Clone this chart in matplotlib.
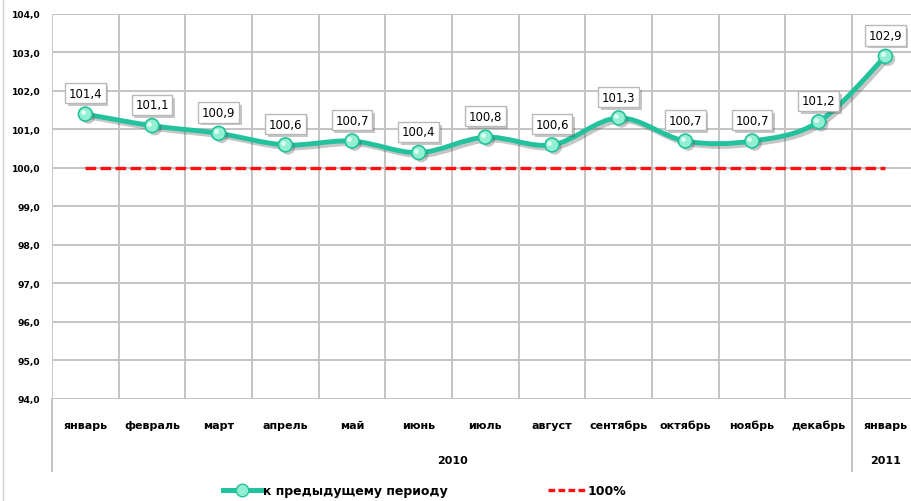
import numpy as np
import matplotlib
matplotlib.use("Agg")
import matplotlib.pyplot as plt
from matplotlib.path import Path
from matplotlib.patches import PathPatch
from matplotlib.lines import Line2D
import matplotlib.patheffects as pe

months = ["январь", "февраль", "март", "апрель", "май", "июнь", "июль",
          "август", "сентябрь", "октябрь", "ноябрь", "декабрь", "январь"]
years = ["2010", "2011"]
year_counts = [12, 1]
values = [101.4, 101.1, 100.9, 100.6, 100.7, 100.4, 100.8,
          100.6, 101.3, 100.7, 100.7, 101.2, 102.9]
baseline = [100.0] * len(months)
series_name = "к предыдущему периоду"
baseline_name = "100%"
y_ticks = [94, 95, 96, 97, 98, 99, 100, 101, 102, 103, 104]

GREEN = "#22c29c"
MARK_FACE = "#93efd2"
GRID = "#c4c4c4"

W, H = 911, 502
fig = plt.figure(figsize=(W / 100, H / 100), dpi=100)
ax = fig.add_axes([52 / W, 1 - 400 / H, 866.7 / W, 385 / H])

n = len(months)
x = np.arange(n)
ax.set_xlim(-0.5, n - 0.5)
ax.set_ylim(94, 104)
ax.set_yticks(y_ticks)
ax.set_yticklabels([f"{v:.1f}".replace(".", ",") for v in y_ticks],
                   fontsize=6.6, fontweight="bold")
ax.set_xticks(x)
ax.set_xticklabels(months, fontsize=8, fontweight="bold")
ax.set_xticks(np.arange(-0.5, n, 1), minor=True)
ax.tick_params(axis="both", which="both", length=0)
ax.tick_params(axis="y", pad=8.5)
ax.tick_params(axis="x", pad=15)
ax.grid(True, axis="y", which="major", color=GRID, linewidth=1.4)
ax.grid(True, axis="x", which="minor", color=GRID, linewidth=1.4)
ax.grid(False, axis="x", which="major")
for s in ax.spines.values():
    s.set_visible(False)
ax.set_axisbelow(True)

# extended separators for multi-level category axis
trans = ax.get_xaxis_transform()
ext = -(472 - 400) / 385
bounds = [-0.5]
acc = -0.5
for c in year_counts:
    acc += c
    bounds.append(acc)
for b in bounds[:-1]:
    ax.add_line(Line2D([b, b], [0, ext], transform=trans, color=GRID,
                       linewidth=1.4, clip_on=False))
# year labels
start = 0
for yl, c in zip(years, year_counts):
    cx = start + (c - 1) / 2
    ax.text(cx, -(461 - 400) / 385, yl, transform=trans, ha="center",
            va="center", fontsize=8, fontweight="bold")
    start += c

# baseline
ax.plot(x, baseline, color="#ff1010", linewidth=2.4, dashes=(3.2, 1.3),
        solid_capstyle="butt", dash_capstyle="butt", zorder=3)

# smoothed line (Bezier through data points)
pts = np.column_stack([x, values]).astype(float)
verts = [tuple(pts[0])]
codes = [Path.MOVETO]
for i in range(n - 1):
    p0 = pts[i - 1] if i > 0 else pts[i]
    p1 = pts[i]
    p2 = pts[i + 1]
    p3 = pts[i + 2] if i + 2 < n else pts[i + 1]
    c1 = p1 + (p2 - p0) / 6
    c2 = p2 - (p3 - p1) / 6
    verts += [tuple(c1), tuple(c2), tuple(p2)]
    codes += [Path.CURVE4] * 3
path = Path(verts, codes)
patch = PathPatch(path, facecolor="none", edgecolor=GREEN, linewidth=3.5,
                  zorder=4, capstyle="round",
                  path_effects=[pe.SimpleLineShadow(offset=(2, -2), shadow_color="#444444", alpha=0.3),
                                pe.Normal()])
ax.add_patch(patch)
ax.plot(x, values, linestyle="none", marker="o", markersize=10,
        markerfacecolor=MARK_FACE, markeredgecolor=GREEN, markeredgewidth=1.2,
        zorder=5,
        path_effects=[pe.SimplePatchShadow(offset=(2, -2), shadow_rgbFace="#444444", alpha=0.3),
                      pe.Normal()])
ax.plot(x - 0.04, np.array(values) + 0.05, linestyle="none", marker="o",
        markersize=3.5, markerfacecolor="white", markeredgecolor="none",
        alpha=0.7, zorder=6)

for xi, v in zip(x, values):
    ax.annotate(f"{v:.1f}".replace(".", ","), (xi, v), xytext=(0, 15),
                textcoords="offset points", ha="center", va="center",
                fontsize=8.5, zorder=7,
                bbox=dict(boxstyle="square,pad=0.3", facecolor="white",
                          edgecolor="#b8b8b8", linewidth=1.0,
                          path_effects=[pe.SimplePatchShadow(offset=(2, -2), shadow_rgbFace="#444444", alpha=0.3),
                                        pe.Normal()]))

# legend
h1 = Line2D([], [], color=GREEN, linewidth=3.6, marker="o", markersize=9,
            markerfacecolor=MARK_FACE, markeredgecolor=GREEN)
h2 = Line2D([], [], color="#ff1010", linewidth=2.4, dashes=(2.0, 1.0))
leg = fig.legend([h1, h2], [series_name, baseline_name], loc="center",
                 bbox_to_anchor=(425 / W, 1 - 492 / H), ncol=2, frameon=False,
                 prop=dict(size=9, weight="bold"), handlelength=3.0,
                 handletextpad=0.2, columnspacing=8.0)

# chart area border
fig.add_artist(Line2D([3 / W, 3 / W], [0, 1], transform=fig.transFigure,
                      color="#d0d0d0", linewidth=1.0))

fig.savefig("out.png", dpi=100)
